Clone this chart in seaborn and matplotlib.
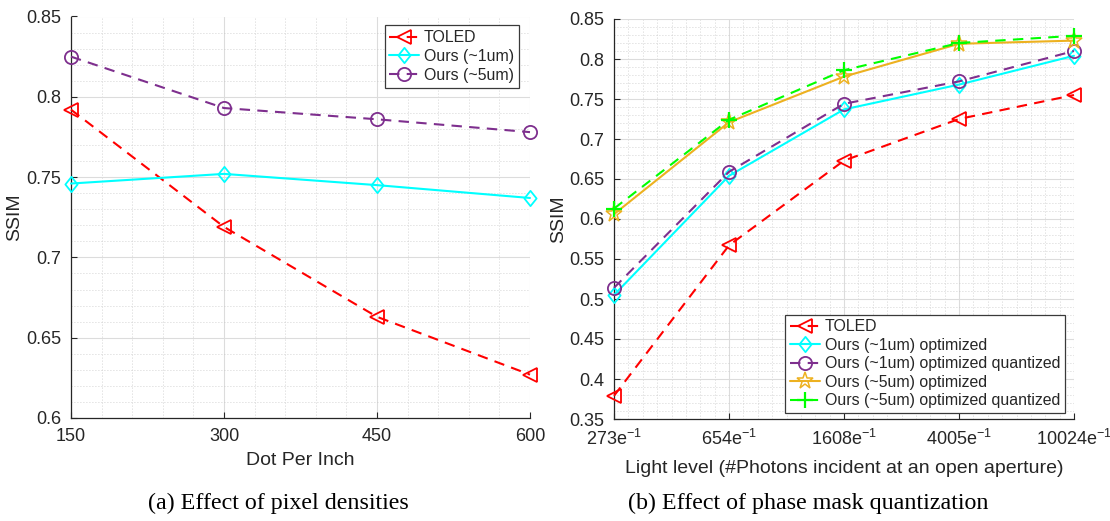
import matplotlib
matplotlib.use("Agg")
import matplotlib.pyplot as plt
from matplotlib.path import Path
from matplotlib.ticker import FixedLocator, MultipleLocator, FuncFormatter
import seaborn as sns

# ---- panel (a): SSIM vs pixel density ----
dpi_values = [150, 300, 450, 600]
ssim_toled_a = [0.792, 0.719, 0.663, 0.627]
ssim_ours1_a = [0.746, 0.752, 0.745, 0.737]
ssim_ours5_a = [0.825, 0.793, 0.786, 0.778]

# ---- panel (b): SSIM vs light level ----
light_labels = ["273e$^{-1}$", "654e$^{-1}$", "1608e$^{-1}$", "4005e$^{-1}$", "10024e$^{-1}$"]
light_pos = [0, 1, 2, 3, 4]
ssim_toled_b = [0.379, 0.567, 0.673, 0.725, 0.755]
ssim_ours1_opt = [0.505, 0.654, 0.737, 0.768, 0.804]
ssim_ours1_q = [0.514, 0.659, 0.744, 0.772, 0.810]
ssim_ours5_opt = [0.606, 0.721, 0.778, 0.819, 0.823]
ssim_ours5_q = [0.613, 0.724, 0.786, 0.820, 0.829]

RED = "#FF0000"
CYAN = "#00FFFF"
PURPLE = "#7E2F8E"
ORANGE = "#EDB120"
GREEN = "#00FF00"
DASH = (5, 3.5)

# diamond a little wider than matplotlib's thin diamond
DIAMOND = Path([(0, 1), (0.8, 0), (0, -1), (-0.8, 0), (0, 1)],
               [Path.MOVETO, Path.LINETO, Path.LINETO, Path.LINETO, Path.CLOSEPOLY])

sns.set_style("ticks")
plt.rcParams["font.family"] = ["Liberation Sans", "DejaVu Sans"]
plt.rcParams["mathtext.fontset"] = "custom"
plt.rcParams["mathtext.rm"] = "Liberation Sans"
plt.rcParams["mathtext.it"] = "Liberation Sans:italic"
plt.rcParams["axes.unicode_minus"] = True

TXT = "#262626"

fig = plt.figure(figsize=(11.1, 5.21), dpi=100)
ax1 = fig.add_axes([71 / 1110, 1 - 418 / 521, 459 / 1110, 401.5 / 521])
ax2 = fig.add_axes([614 / 1110, 1 - 419 / 521, 460 / 1110, 400 / 521])


def series(ax, x, y, color, marker, ms, dashed, label, mew=1.3):
    sns.lineplot(x=x, y=y, ax=ax, color=color, marker=marker, markersize=ms,
                 markerfacecolor="none", markeredgecolor=color,
                 markeredgewidth=mew, linewidth=1.5,
                 dashes=DASH if dashed else None, label=label, clip_on=False,
                 zorder=3)


def style_axes(ax):
    ax.set_axisbelow(True)
    ax.grid(which="major", color="#dcdcdc", linewidth=0.8, linestyle="-")
    ax.grid(which="minor", color="#c4c4c4", linewidth=0.6, linestyle=(0, (1, 2.6)))
    for s in ("top", "right"):
        ax.spines[s].set_visible(False)
    for s in ("left", "bottom"):
        ax.spines[s].set_color(TXT)
        ax.spines[s].set_linewidth(0.9)
    ax.tick_params(which="major", direction="in", length=4, width=0.8,
                   color=TXT, labelcolor=TXT, labelsize=13, pad=7)
    ax.tick_params(which="minor", length=0)
    ax.yaxis.set_major_formatter(FuncFormatter(lambda v, p: f"{v:g}"))


# panel (a)
series(ax1, dpi_values, ssim_toled_a, RED, "<", 10.5, True, "TOLED")
series(ax1, dpi_values, ssim_ours1_a, CYAN, DIAMOND, 11, False, "Ours (~1um)")
series(ax1, dpi_values, ssim_ours5_a, PURPLE, "o", 9.5, True, "Ours (~5um)")
ax1.set_xlim(150, 600)
ax1.set_ylim(0.6, 0.85)
ax1.xaxis.set_major_locator(FixedLocator(dpi_values))
ax1.xaxis.set_minor_locator(MultipleLocator(30))
ax1.yaxis.set_major_locator(MultipleLocator(0.05))
ax1.yaxis.set_minor_locator(MultipleLocator(0.01))
style_axes(ax1)
ax1.set_xlabel("Dot Per Inch", fontsize=14, color=TXT, labelpad=5)
ax1.set_ylabel("SSIM", fontsize=14, color=TXT)
ax1.yaxis.set_label_coords((23 - 71) / 459, 0.5)
leg1 = ax1.legend(loc="upper right", bbox_to_anchor=(0.976, 0.978),
                  fontsize=11.4, frameon=True, fancybox=False, framealpha=1,
                  edgecolor="#3a3a3a", handlelength=1.9, handletextpad=0.3,
                  labelspacing=0.25, borderpad=0.3, borderaxespad=0)
leg1.get_frame().set_linewidth(0.9)

# panel (b)
series(ax2, light_pos, ssim_toled_b, RED, "<", 10.5, True, "TOLED")
series(ax2, light_pos, ssim_ours1_opt, CYAN, DIAMOND, 11, False, "Ours (~1um) optimized")
series(ax2, light_pos, ssim_ours1_q, PURPLE, "o", 9.5, True, "Ours (~1um) optimized quantized")
series(ax2, light_pos, ssim_ours5_opt, ORANGE, "*", 12.5, False, "Ours (~5um) optimized", mew=1.1)
series(ax2, light_pos, ssim_ours5_q, GREEN, "+", 12, True, "Ours (~5um) optimized quantized", mew=1.6)
ax2.set_xlim(0, 4)
ax2.set_ylim(0.35, 0.85)
ax2.xaxis.set_major_locator(FixedLocator(light_pos))
ax2.set_xticklabels(light_labels)
ax2.xaxis.set_minor_locator(MultipleLocator(0.125))
ax2.yaxis.set_major_locator(MultipleLocator(0.05))
ax2.yaxis.set_minor_locator(MultipleLocator(0.01))
style_axes(ax2)
ax2.set_xlabel("Light level (#Photons incident at an open aperture)",
               fontsize=14, color=TXT, labelpad=8)
ax2.set_ylabel("SSIM", fontsize=14, color=TXT)
ax2.yaxis.set_label_coords((567 - 614) / 460, 0.5)
leg2 = ax2.legend(loc="lower right", bbox_to_anchor=(0.980, 0.015),
                  fontsize=11.4, frameon=True, fancybox=False, framealpha=1,
                  edgecolor="#3a3a3a", handlelength=1.9, handletextpad=0.3,
                  labelspacing=0.22, borderpad=0.3, borderaxespad=0)
leg2.get_frame().set_linewidth(0.9)

# captions
fig.text(278 / 1110, 1 - 503 / 521, "(a) Effect of pixel densities",
         family="Liberation Serif", fontsize=17.3, ha="center", va="center", color="black")
fig.text(808 / 1110, 1 - 503 / 521, "(b) Effect of phase mask quantization",
         family="Liberation Serif", fontsize=17.3, ha="center", va="center", color="black")

fig.savefig("out.png", dpi=100)
